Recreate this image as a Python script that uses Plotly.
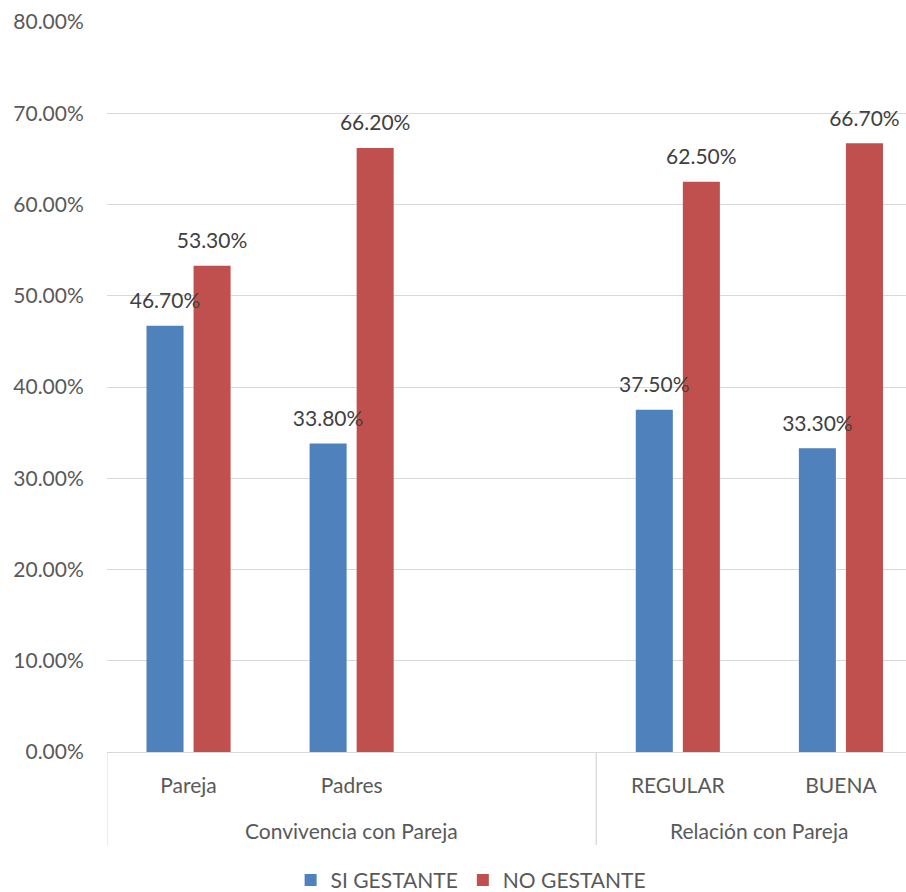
import plotly.graph_objects as go

# Category slots (a blank spacer slot separates the two groups)
categories = ["Pareja", "Padres", " ", "REGULAR", "BUENA"]
group_names = ["Convivencia con Pareja", "Relación con Pareja"]
group_sizes = [3, 2]

si_gestante = [0.467, 0.338, None, 0.375, 0.333]
no_gestante = [0.533, 0.662, None, 0.625, 0.667]

series_names = ["SI GESTANTE", "NO GESTANTE"]
series_colors = ["#4F81BD", "#C0504D"]

FONT = "Lato"
TEXT_GREY = "#595959"
LINE_GREY = "#D9D9D9"

PLOT_H = 892 - 22 - 140  # plot-area height in px, used to place the group row


def pct(v):
    return "" if v is None else f"{v:.2%}"


fig = go.Figure()
for name, vals, color in zip(series_names, [si_gestante, no_gestante], series_colors):
    fig.add_trace(go.Bar(
        x=categories, y=vals, name=name, offsetgroup=name,
        marker=dict(color=color, line=dict(width=0)),
        hoverinfo="skip",
    ))
# value labels, grouped like the bars and lifted above each bar top
for name, vals in zip(series_names, [si_gestante, no_gestante]):
    fig.add_trace(go.Scatter(
        x=categories, y=vals, mode="markers+text", offsetgroup=name,
        text=[pct(v) for v in vals], textposition="top center",
        textfont=dict(family=FONT, size=21, color="#404040"),
        marker=dict(size=18, color="rgba(0,0,0,0)"),
        showlegend=False, hoverinfo="skip", cliponaxis=False,
    ))

# second label row (group names) and the vertical dividers between groups
start = 0
for gname, size in zip(group_names, group_sizes):
    lo, hi = start - 0.5, start + size - 0.5
    fig.add_annotation(
        x=(lo + hi) / 2, xref="x", y=0, yref="paper",
        text=gname, showarrow=False, yanchor="middle", yshift=-78,
        font=dict(family=FONT, size=21, color=TEXT_GREY),
    )
    for bx in (lo, hi):
        fig.add_shape(
            type="line", xref="x", yref="paper",
            x0=bx, x1=bx, y0=0, y1=-93 / PLOT_H,
            line=dict(color=LINE_GREY, width=1), layer="below",
        )
    start += size

fig.update_layout(
    width=906, height=892,
    margin=dict(l=107, r=0, t=22, b=140),
    paper_bgcolor="white", plot_bgcolor="white",
    barmode="group", bargap=0.423, bargroupgap=0.213,
    scattermode="group", scattergap=0.423,
    font=dict(family=FONT, size=21, color=TEXT_GREY),
    legend=dict(
        orientation="h", xref="container", yref="container",
        x=0.52, xanchor="center", y=0.013, yanchor="middle",
        font=dict(family=FONT, size=21, color=TEXT_GREY),
        itemwidth=30, traceorder="normal",
    ),
    showlegend=True,
)
fig.update_xaxes(
    type="category", categoryorder="array", categoryarray=categories,
    range=[-0.5, 4.399],
    showline=True, linecolor=LINE_GREY, linewidth=1,
    showgrid=False,
    ticks="outside", ticklen=15, tickcolor="rgba(0,0,0,0)",
    tickfont=dict(family=FONT, size=21, color=TEXT_GREY),
)
fig.update_yaxes(
    range=[0, 0.8], dtick=0.1, tickformat=".2%",
    showgrid=True, gridcolor=LINE_GREY, gridwidth=1,
    zeroline=False, showline=False,
    ticks="outside", ticklen=18, tickcolor="rgba(0,0,0,0)",
    tickfont=dict(family=FONT, size=21, color=TEXT_GREY),
)

fig.write_html("out.html")
